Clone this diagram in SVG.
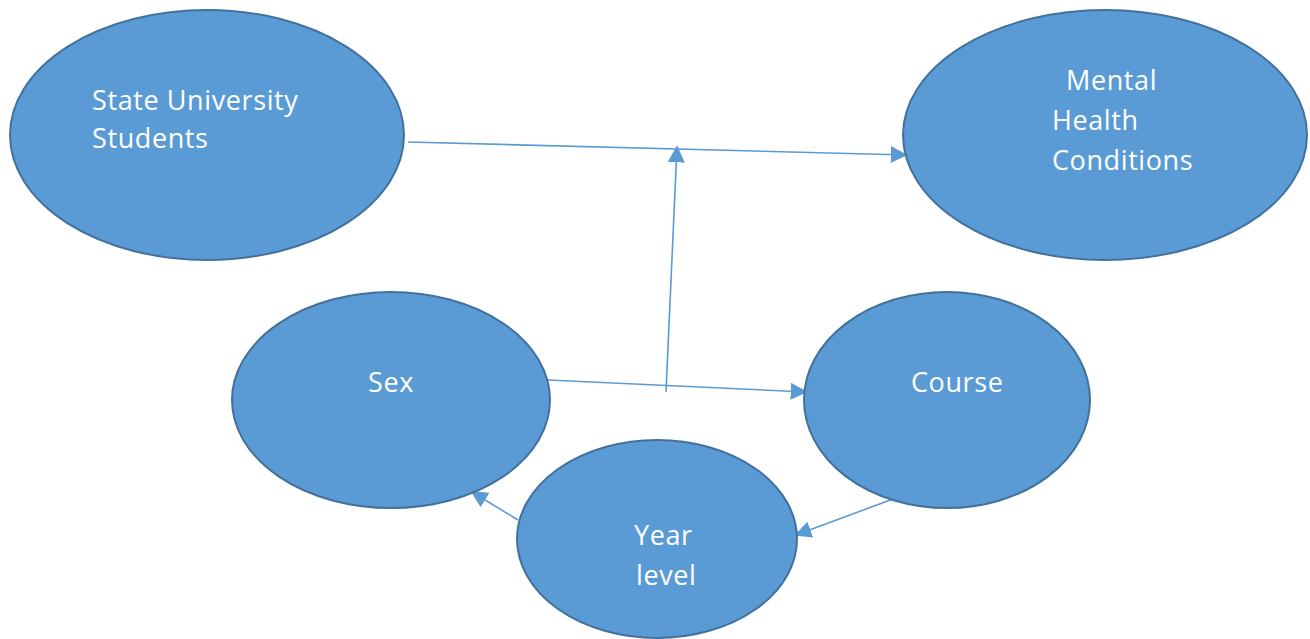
<svg xmlns="http://www.w3.org/2000/svg" width="1310" height="639" viewBox="0 0 1310 639">
<style>
.node{fill:#5b9bd5;stroke:#41719c;stroke-width:2}
.lbl{fill:#ffffff;font-family:"Open Sans","Liberation Sans",sans-serif;font-size:27px;letter-spacing:0.6px}
.edge{stroke:#5b9bd5;stroke-width:1.6;fill:none}
</style>
<defs>
<marker id="arrB" viewBox="0 0 10 10" refX="9" refY="5" markerWidth="17" markerHeight="17" markerUnits="userSpaceOnUse" orient="auto">
<path d="M0,0 L10,5 L0,10 z" fill="#5b9bd5"/>
</marker>
</defs>
<rect width="1310" height="639" fill="#ffffff"/>
<g id="connectors">
<line class="edge" x1="408" y1="142" x2="906" y2="155" marker-end="url(#arrB)"/>
<line class="edge" x1="548" y1="380" x2="806" y2="392" marker-end="url(#arrB)"/>
<line class="edge" x1="666" y1="392" x2="677" y2="147" marker-end="url(#arrB)"/>
<line class="edge" x1="518" y1="520" x2="472" y2="492" marker-end="url(#arrB)"/>
<line class="edge" x1="893" y1="499" x2="796" y2="535" marker-end="url(#arrB)"/>
</g>
<g id="state">
<ellipse class="node" cx="207" cy="135" rx="197" ry="125"/>
<text class="lbl" x="92" y="110">State University</text>
<text class="lbl" x="92" y="148">Students</text>
</g>
<g id="mental">
<ellipse class="node" cx="1105" cy="135" rx="202" ry="125"/>
<text class="lbl" x="1066" y="90">Mental</text>
<text class="lbl" x="1052" y="130">Health</text>
<text class="lbl" x="1052" y="170">Conditions</text>
</g>
<g id="sex">
<ellipse class="node" cx="391" cy="400" rx="159" ry="108"/>
<text class="lbl" x="368" y="392">Sex</text>
</g>
<g id="course">
<ellipse class="node" cx="947" cy="400" rx="143" ry="108"/>
<text class="lbl" x="911" y="392">Course</text>
</g>
<g id="year">
<ellipse class="node" cx="657" cy="539" rx="140" ry="99"/>
<text class="lbl" x="634" y="545">Year</text>
<text class="lbl" x="636" y="585">level</text>
</g>
</svg>
